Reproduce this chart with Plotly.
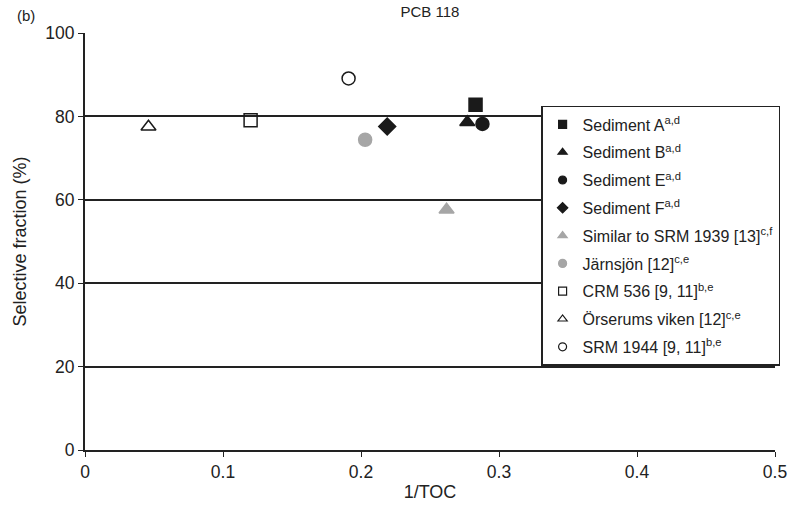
import plotly.graph_objects as go

names = ["Sediment A<sup>a,d</sup>", "Sediment B<sup>a,d</sup>", "Sediment E<sup>a,d</sup>",
         "Sediment F<sup>a,d</sup>", "Similar to SRM 1939 [13]<sup>c,f</sup>",
         "Järnsjön [12]<sup>c,e</sup>", "CRM 536 [9, 11]<sup>b,e</sup>",
         "Örserums viken [12]<sup>c,e</sup>", "SRM 1944 [9, 11]<sup>b,e</sup>"]
x_vals = [0.283, 0.277, 0.288, 0.219, 0.262, 0.203, 0.120, 0.046, 0.191]
y_vals = [82.8, 78.6, 78.2, 77.6, 57.6, 74.4, 79.1, 77.5, 89.1]
symbols = ["square", "triangle-up", "circle", "diamond", "triangle-up", "circle",
           "square-open", "triangle-up-open", "circle-open"]
colors = ["#1a1a1a", "#1a1a1a", "#1a1a1a", "#1a1a1a", "#a6a6a6", "#a6a6a6",
          "#1a1a1a", "#1a1a1a", "#1a1a1a"]

fig = go.Figure()
for i, (n, xv, yv, s, c) in enumerate(zip(names, x_vals, y_vals, symbols, colors)):
    fig.add_trace(go.Scatter(x=[xv], y=[yv], mode="markers", name=n, showlegend=False,
                             legendgroup=f"g{i}",
                             marker=dict(symbol=s, color=c, size=13,
                                         line=dict(color=c, width=1.5))))
for i, (n, s, c) in enumerate(zip(names, symbols, colors)):
    fig.add_trace(go.Scatter(x=[None], y=[None], mode="markers", name=n,
                             legendgroup=f"g{i}",
                             marker=dict(symbol=s, color=c, size=8,
                                         line=dict(color=c, width=1.2))))

TXT = "#222"
fig.update_layout(
    width=793, height=509,
    margin=dict(l=85, r=18, t=33, b=59, autoexpand=False),
    paper_bgcolor="white", plot_bgcolor="white",
    font=dict(family="Liberation Sans, Arial, sans-serif", size=15, color=TXT),
    title=dict(text="PCB 118", x=0.5, xanchor="center", y=0.976, yanchor="middle",
               font=dict(size=15, color=TXT), xref="paper"),
    xaxis=dict(range=[0, 0.5], dtick=0.1, tick0=0, showgrid=False, zeroline=False,
               showline=True, linecolor=TXT, linewidth=2, ticks="outside",
               ticklen=5, tickcolor=TXT, ticklabelstandoff=0, automargin=False,
               tickfont=dict(size=17.5),
               title=dict(text="1/TOC", standoff=4)),
    yaxis=dict(range=[0, 100], dtick=20, showgrid=True, gridcolor=TXT, gridwidth=1.5,
               zeroline=False, showline=True, linecolor=TXT, linewidth=2,
               ticks="outside", ticklen=5, tickcolor=TXT, automargin=False,
               tickfont=dict(size=17.5),
               title=dict(text="Selective fraction (%)", standoff=14)),
    legend=dict(x=0.661, y=0.825, xanchor="left", yanchor="top", bgcolor="white",
                bordercolor=TXT, borderwidth=1.5, font=dict(size=16),
                itemsizing="trace", tracegroupgap=4, itemwidth=30),
    showlegend=True,
)
fig.add_annotation(text="(b)", x=-0.101, y=1.043, xref="paper", yref="paper",
                   xanchor="left", yanchor="middle", showarrow=False, font=dict(size=15))

fig.write_html("out.html")
